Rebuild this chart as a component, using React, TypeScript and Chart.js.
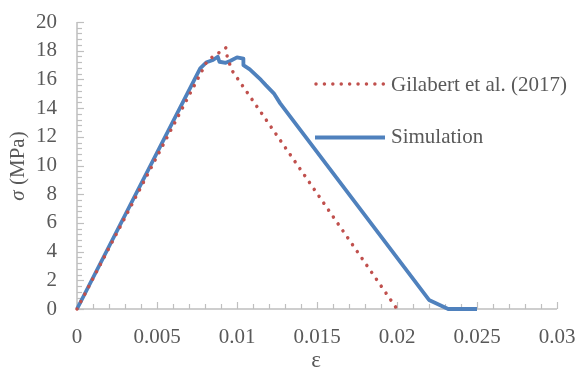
import React, { useEffect, useRef } from "react";
import { Chart, registerables } from "chart.js";

Chart.register(...registerables);

// Gilabert et al. (2017) — strain / stress
const gilabertStrain = [0, 0.0072, 0.0081, 0.0085, 0.009, 0.0093, 0.0094, 0.0097, 0.02];
const gilabertStress = [0, 15.3, 17.2, 17.6, 17.95, 18.2, 17.5, 16.6, 0];

// Simulation — strain / stress
const simStrain = [0, 0.0077, 0.0081, 0.0085, 0.0088, 0.0089, 0.0093, 0.0096, 0.01, 0.0104, 0.0104, 0.0108, 0.0115, 0.0118, 0.0123, 0.0127, 0.022, 0.0232, 0.025];
const simStress = [0, 16.77, 17.2, 17.35, 17.58, 17.23, 17.16, 17.3, 17.54, 17.45, 17.0, 16.7, 15.96, 15.6, 15.03, 14.33, 0.63, 0, 0];

const xTicks = [0, 0.005, 0.01, 0.015, 0.02, 0.025, 0.03];
const yTicks = [0, 2, 4, 6, 8, 10, 12, 14, 16, 18, 20];

const seriesNames = ["Gilabert et al. (2017)", "Simulation"];
const xTitle = "ε";
const yTitleSymbol = "σ";
const yTitleUnit = " (MPa)";

const RED = "#c0504d";
const BLUE = "#4f81bd";
const TEXT = "#595959";
const AXIS = "#bfbfbf";
const FONT = "'Liberation Serif', 'Times New Roman', serif";
const FS = 21;

const decorPlugin = {
  id: "decor",
  beforeDatasetsDraw(chart: any) {
    const ctx = chart.ctx;
    const xs = chart.scales.x;
    const ys = chart.scales.y;
    const x0 = xs.getPixelForValue(0);
    const y0 = ys.getPixelForValue(0);
    ctx.save();
    ctx.strokeStyle = AXIS;
    ctx.lineWidth = 1.5;
    ctx.beginPath();
    ctx.moveTo(x0, ys.getPixelForValue(20));
    ctx.lineTo(x0, y0);
    ctx.lineTo(xs.getPixelForValue(0.03), y0);
    ctx.stroke();
    ctx.lineWidth = 1.2;
    for (let i = 0; i <= 50; i++) {
      const v = i * 0.4;
      const major = i % 5 === 0;
      const p = Math.round(ys.getPixelForValue(v)) + 0.5;
      ctx.beginPath();
      ctx.moveTo(x0, p);
      ctx.lineTo(x0 + (major ? 7 : 5), p);
      ctx.stroke();
    }
    for (let i = 0; i <= 30; i++) {
      const v = i * 0.001;
      const major = i % 5 === 0;
      const p = Math.round(xs.getPixelForValue(v)) + 0.5;
      ctx.beginPath();
      ctx.moveTo(p, y0);
      ctx.lineTo(p, y0 - (major ? 7 : 5));
      ctx.stroke();
    }
    ctx.restore();
  },
  afterDraw(chart: any) {
    const ctx = chart.ctx;
    ctx.save();
    ctx.fillStyle = TEXT;
    ctx.translate(18, 166);
    ctx.rotate(-Math.PI / 2);
    ctx.font = `italic ${FS}px ${FONT}`;
    const w1 = ctx.measureText(yTitleSymbol).width;
    ctx.font = `${FS}px ${FONT}`;
    const w2 = ctx.measureText(yTitleUnit).width;
    const start = -(w1 + w2) / 2;
    ctx.textBaseline = "middle";
    ctx.textAlign = "left";
    ctx.font = `italic ${FS}px ${FONT}`;
    ctx.fillText(yTitleSymbol, start, 0);
    ctx.font = `${FS}px ${FONT}`;
    ctx.fillText(yTitleUnit, start + w1, 0);
    ctx.restore();

    ctx.save();
    ctx.fillStyle = TEXT;
    ctx.font = `${FS + 2}px ${FONT}`;
    ctx.textAlign = "center";
    ctx.textBaseline = "alphabetic";
    ctx.fillText(xTitle, 316, 367);

    ctx.font = `${FS}px ${FONT}`;
    ctx.textAlign = "left";
    ctx.textBaseline = "middle";
    ctx.strokeStyle = RED;
    ctx.lineWidth = 3.5;
    ctx.lineCap = "round";
    ctx.setLineDash([0.01, 8.4]);
    ctx.beginPath();
    ctx.moveTo(316, 84);
    ctx.lineTo(384, 84);
    ctx.stroke();
    ctx.setLineDash([]);
    ctx.lineCap = "butt";
    ctx.strokeStyle = BLUE;
    ctx.lineWidth = 4;
    ctx.beginPath();
    ctx.moveTo(315, 137.5);
    ctx.lineTo(385, 137.5);
    ctx.stroke();
    ctx.fillText(seriesNames[0], 391, 85);
    ctx.fillText(seriesNames[1], 391, 137.5);
    ctx.restore();
  },
};

export default function App() {
  const ref = useRef<HTMLCanvasElement>(null);
  useEffect(() => {
    document.body.style.margin = "0";
    const canvas = ref.current!;
    const chart = new Chart(canvas, {
      type: "line",
      data: {
        datasets: [
          {
            label: seriesNames[0],
            data: gilabertStrain.map((x, i) => ({ x, y: gilabertStress[i] })),
            borderColor: RED,
            borderWidth: 3.5,
            borderDash: [0.01, 8.4],
            borderCapStyle: "round",
            pointRadius: 0,
            fill: false,
            tension: 0,
            clip: false as any,
          },
          {
            label: seriesNames[1],
            data: simStrain.map((x, i) => ({ x, y: simStress[i] })),
            borderColor: BLUE,
            borderWidth: 3.8,
            borderJoinStyle: "round",
            pointRadius: 0,
            fill: false,
            tension: 0,
            clip: false as any,
          },
        ],
      },
      options: {
        responsive: false,
        animation: false,
        devicePixelRatio: 1,
        layout: { padding: { top: 22, right: 20, left: 0, bottom: 0 } },
        plugins: { legend: { display: false }, tooltip: { enabled: false } },
        scales: {
          x: {
            type: "linear",
            min: 0,
            max: 0.03,
            afterFit: (s: any) => {
              s.height = 58;
              s.paddingLeft = 0;
              s.paddingRight = 0;
              s.paddingTop = 0;
              s.paddingBottom = 0;
            },
            afterBuildTicks: (s: any) => {
              s.ticks = xTicks.map((v) => ({ value: v }));
            },
            grid: { display: false, drawTicks: false },
            border: { display: false },
            ticks: {
              color: TEXT,
              font: { family: FONT, size: FS },
              padding: 16,
              maxRotation: 0,
              autoSkip: false,
              callback: (v: any) => String(Number(Number(v).toFixed(3))),
            },
          },
          y: {
            type: "linear",
            min: 0,
            max: 20,
            afterFit: (s: any) => {
              s.width = 77;
              s.paddingLeft = 0;
              s.paddingRight = 0;
              s.paddingTop = 0;
              s.paddingBottom = 0;
            },
            afterBuildTicks: (s: any) => {
              s.ticks = yTicks.map((v) => ({ value: v }));
            },
            grid: { display: false, drawTicks: false },
            border: { display: false },
            ticks: {
              color: TEXT,
              font: { family: FONT, size: FS },
              padding: 20,
              autoSkip: false,
              callback: (v: any) => String(v),
            },
          },
        },
      },
      plugins: [decorPlugin],
    });
    return () => chart.destroy();
  }, []);
  return <canvas ref={ref} width={577} height={367} style={{ display: "block" }} />;
}
